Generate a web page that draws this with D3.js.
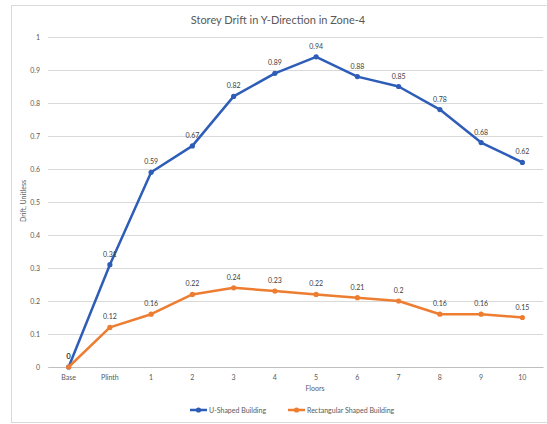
<!DOCTYPE html>
<html><head><meta charset="utf-8">
<script src="https://cdn.jsdelivr.net/npm/d3@7"></script>
<style>body{margin:0;background:#fff;font-family:Lato,"Open Sans",sans-serif;}</style>
</head><body>
<svg id="c" width="547" height="424"></svg>
<script>
const categories = ["Base","Plinth","1","2","3","4","5","6","7","8","9","10"];
const uShaped = [0,0.31,0.59,0.67,0.82,0.89,0.94,0.88,0.85,0.78,0.68,0.62];
const rectShaped = [0,0.12,0.16,0.22,0.24,0.23,0.22,0.21,0.2,0.16,0.16,0.15];
const yTicks = [0,0.1,0.2,0.3,0.4,0.5,0.6,0.7,0.8,0.9,1];
const seriesNames = ["U-Shaped Building","Rectangular Shaped Building"];
const colors = ["#2E5DB8","#ED7D31"];

const svg = d3.select("#c");
svg.append("rect").attr("x",11.5).attr("y",5.5).attr("width",560).attr("height",417)
  .attr("fill","#fff").attr("stroke","#d9d9d9");

const x = d3.scaleBand().domain(categories).range([48,543]);
const y = d3.scaleLinear().domain([0,1]).range([367,37]);

svg.append("text").attr("x",278).attr("y",24).attr("text-anchor","middle")
  .attr("font-size",11).attr("fill","#595959").text("Storey Drift in Y-Direction in Zone-4");

const ga = svg.append("g").attr("transform","translate(48,0)")
  .call(d3.axisLeft(y).tickValues(yTicks).tickSize(-495).tickFormat(d3.format("")));
ga.select(".domain").remove();
ga.selectAll(".tick line").attr("stroke","#d9d9d9");
ga.selectAll(".tick text").attr("x",-8).attr("font-size",7).attr("fill","#595959").attr("font-family","Lato,sans-serif");

const gx = svg.append("g").attr("transform","translate(0,367)")
  .call(d3.axisBottom(x).tickSize(0).tickPadding(8));
gx.select(".domain").attr("stroke","#bfbfbf");
gx.selectAll(".tick text").attr("font-size",7).attr("fill","#595959").attr("font-family","Lato,sans-serif");

svg.append("text").attr("x",315).attr("y",391).attr("text-anchor","middle")
  .attr("font-size",7).attr("fill","#595959").text("Floors");
svg.append("text").attr("transform","translate(26,201) rotate(-90)").attr("text-anchor","middle")
  .attr("font-size",7).attr("fill","#595959").text("Drift, Unitless");

const cx = d => x(d) + x.bandwidth()/2;
[uShaped, rectShaped].forEach((vals,i)=>{
  const data = categories.map((c,j)=>({c, v: vals[j]}));
  svg.append("path").datum(data).attr("fill","none").attr("stroke",colors[i]).attr("stroke-width",2.5)
    .attr("stroke-linejoin","round")
    .attr("d", d3.line().x(d=>cx(d.c)).y(d=>y(d.v)));
  svg.selectAll(null).data(data).enter().append("circle")
    .attr("cx",d=>cx(d.c)).attr("cy",d=>y(d.v)).attr("r",2.6).attr("fill",colors[i]);
  svg.selectAll(null).data(data).enter().append("text")
    .attr("x",d=>cx(d.c)).attr("y",d=>y(d.v)-8).attr("text-anchor","middle")
    .attr("font-size",7).attr("fill","#404040").text(d=>d.v);
});

const legX = [190, 288];
seriesNames.forEach((n,i)=>{
  const g = svg.append("g").attr("transform",`translate(${legX[i]},410)`);
  g.append("line").attr("x1",0).attr("x2",17).attr("stroke",colors[i]).attr("stroke-width",2.5);
  g.append("circle").attr("cx",8.5).attr("r",2.6).attr("fill",colors[i]);
  g.append("text").attr("x",19).attr("y",2.5).attr("font-size",7).attr("fill","#595959").text(n);
});
</script>
</body></html>
